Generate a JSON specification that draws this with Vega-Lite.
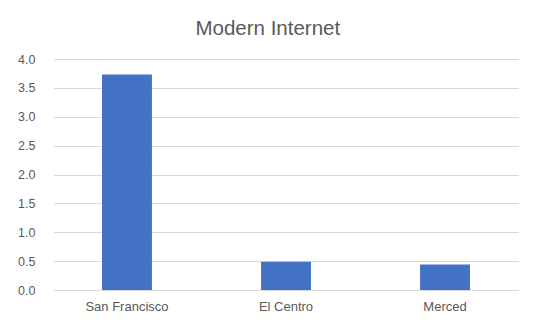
{
  "$schema": "https://vega.github.io/schema/vega-lite/v6.json",
  "autosize": "none",
  "width": 465,
  "height": 231,
  "padding": {"left": 47, "top": 59, "right": 24, "bottom": 34},
  "background": "white",
  "title": {
    "text": "Modern Internet",
    "anchor": "middle",
    "frame": "bounds",
    "dx": 3,
    "fontSize": 20.5,
    "font": "Liberation Sans",
    "fontWeight": "normal",
    "color": "#595959",
    "offset": 14
  },
  "data": {
    "values": [
      {"city": "San Francisco", "value": 3.73},
      {"city": "El Centro", "value": 0.49},
      {"city": "Merced", "value": 0.44}
    ]
  },
  "mark": {"type": "bar", "color": "#4472C4"},
  "encoding": {
    "x": {
      "field": "city",
      "type": "nominal",
      "sort": null,
      "title": null,
      "scale": {"paddingInner": 0.686, "paddingOuter": 0.305, "range": [6.5, 471.5]},
      "axis": {
        "labelAngle": 0,
        "ticks": false,
        "domain": false,
        "labelFont": "Liberation Sans",
        "labelFontSize": 13,
        "labelColor": "#595959",
        "labelPadding": 10
      }
    },
    "y": {
      "field": "value",
      "type": "quantitative",
      "title": null,
      "scale": {"domain": [0, 4]},
      "axis": {
        "values": [0, 0.5, 1, 1.5, 2, 2.5, 3, 3.5, 4],
        "format": ".1f",
        "ticks": false,
        "domain": false,
        "grid": true,
        "gridColor": "#d9d9d9",
        "gridWidth": 1,
        "labelFont": "Liberation Sans",
        "labelFontSize": 12.5,
        "labelColor": "#595959",
        "labelPadding": 12
      }
    }
  },
  "config": {"view": {"stroke": null}}
}
